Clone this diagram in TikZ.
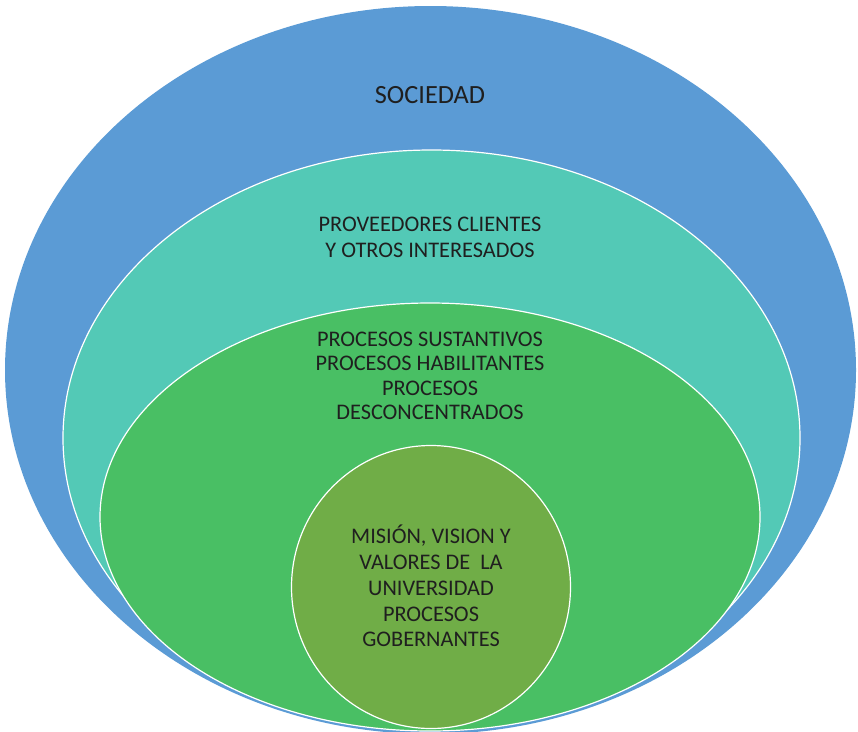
\documentclass[tikz,border=0pt]{standalone}
\usepackage{fontspec}
\setmainfont{Carlito}
\usetikzlibrary{shapes.geometric}

\definecolor{sociedad}{HTML}{5B9BD5}
\definecolor{interesados}{HTML}{53C9B6}
\definecolor{procesos}{HTML}{49BF64}
\definecolor{mision}{HTML}{70AD47}

\tikzset{
  capa/.style={ellipse, draw=white, line width=1.2pt, inner sep=0pt},
  rotulo/.style={align=center, text=black!88, inner sep=0pt,
    font=\fontsize{22.3}{25.8}\selectfont},
}

\begin{document}
\begin{tikzpicture}[x=1pt,y=-1pt]
\useasboundingbox (0,0) rectangle (858,731);

% capas, de fuera hacia dentro
\node[capa, draw=none, fill=sociedad, minimum width=851pt, minimum height=728pt] (sociedad) at (430.5,370) {};
\node[capa, fill=interesados, minimum width=737pt, minimum height=576pt] (interesados) at (431.5,438) {};
\node[capa, fill=procesos, minimum width=660pt, minimum height=428pt] (procesos) at (430,517) {};
\node[capa, fill=mision, minimum width=279pt, minimum height=283pt] (mision) at (431,587) {};

% rotulos
\node[rotulo, font=\fontsize{26.3}{30}\selectfont] (t-sociedad) at (430,95) {SOCIEDAD};
\node[rotulo] (t-interesados) at (430,237) {PROVEEDORES CLIENTES\\Y OTROS INTERESADOS};
\node[rotulo, font=\fontsize{22.3}{24.5}\selectfont] (t-procesos) at (430,376) {PROCESOS SUSTANTIVOS\\PROCESOS HABILITANTES\\PROCESOS\\DESCONCENTRADOS};
\node[rotulo] (t-mision) at (431,586) {MISIÓN, VISION Y\\VALORES DE\ \ LA\\UNIVERSIDAD\\PROCESOS\\GOBERNANTES};
\end{tikzpicture}
\end{document}
